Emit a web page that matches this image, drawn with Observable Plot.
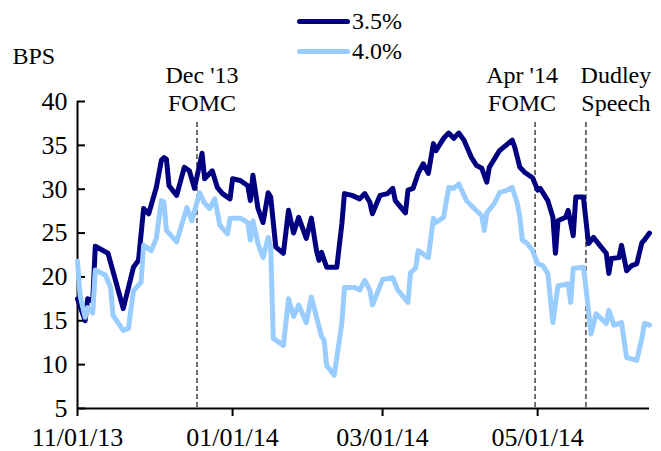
<!DOCTYPE html>
<html><head><meta charset="utf-8">
<script src="https://cdn.jsdelivr.net/npm/d3@7"></script>
<script src="https://cdn.jsdelivr.net/npm/@observablehq/plot@0.6"></script>
<style>
html,body{margin:0;padding:0;background:#fff;}
#chart{position:relative;width:661px;height:451px;font-family:'Liberation Serif','Times New Roman',Times,'DejaVu Serif',serif;}
#chart svg{position:absolute;left:0;top:0;}
#legend{position:absolute;left:297px;top:6px;z-index:2;}
.row{display:flex;align-items:center;height:30px;font-size:24px;line-height:30px;color:#000;}
.sw{width:53px;height:5px;border-radius:2.5px;margin-right:2px;}
</style></head><body><div id="chart"><div id="legend"></div></div>
<script>
const seriesNames = ["3.5%", "4.0%"];
const seriesColors = ["#000080", "#99ccff"];

const dates35 = ["2013-11-01","2013-11-04","2013-11-05","2013-11-07","2013-11-08","2013-11-13","2013-11-19","2013-11-23","2013-11-25","2013-11-27","2013-11-29","2013-12-02","2013-12-04","2013-12-05","2013-12-06","2013-12-07","2013-12-10","2013-12-13","2013-12-15","2013-12-17","2013-12-20","2013-12-21","2013-12-24","2013-12-26","2013-12-28","2013-12-31","2014-01-01","2014-01-04","2014-01-07","2014-01-08","2014-01-09","2014-01-11","2014-01-13","2014-01-15","2014-01-16","2014-01-18","2014-01-21","2014-01-23","2014-01-25","2014-01-27","2014-01-30","2014-02-01","2014-02-03","2014-02-04","2014-02-05","2014-02-07","2014-02-11","2014-02-13","2014-02-14","2014-02-17","2014-02-20","2014-02-22","2014-02-24","2014-02-25","2014-02-28","2014-03-03","2014-03-05","2014-03-06","2014-03-10","2014-03-11","2014-03-13","2014-03-15","2014-03-17","2014-03-19","2014-03-21","2014-03-22","2014-03-25","2014-03-27","2014-03-29","2014-03-31","2014-04-02","2014-04-05","2014-04-07","2014-04-09","2014-04-11","2014-04-12","2014-04-16","2014-04-21","2014-04-22","2014-04-24","2014-04-26","2014-04-29","2014-05-01","2014-05-02","2014-05-05","2014-05-07","2014-05-08","2014-05-09","2014-05-12","2014-05-13","2014-05-15","2014-05-16","2014-05-19","2014-05-21","2014-05-23","2014-05-26","2014-05-28","2014-05-29","2014-05-30","2014-06-02","2014-06-03","2014-06-05","2014-06-07","2014-06-09","2014-06-11","2014-06-12","2014-06-14"];
const values35 = [17.5,15.0,17.5,17.3,23.5,22.7,16.4,21.1,21.9,27.8,27.2,30.2,33.3,33.6,33.4,30.4,29.3,32.5,32.1,30.1,34.1,31.2,32.1,30.2,29.5,28.9,31.2,31.0,30.4,28.7,31.6,27.8,26.2,29.6,29.1,23.4,22.7,27.6,25.0,26.8,24.4,26.7,23.0,21.9,22.8,21.1,21.1,26.1,29.5,29.3,28.9,29.5,28.5,27.2,29.3,29.5,30.1,28.7,27.3,29.9,30.1,31.8,32.9,31.8,35.2,34.4,35.8,36.4,35.8,36.4,35.6,33.6,32.7,32.4,30.8,32.5,34.4,35.6,34.8,32.5,31.9,31.3,29.9,30.1,28.7,26.8,22.7,26.4,26.8,27.6,24.7,29.1,29.1,23.8,24.5,23.4,22.7,20.4,22.1,22.2,23.6,20.7,21.3,21.5,23.9,24.2,25.0];

const dates40 = ["2013-11-01","2013-11-02","2013-11-04","2013-11-05","2013-11-07","2013-11-08","2013-11-12","2013-11-14","2013-11-15","2013-11-19","2013-11-21","2013-11-23","2013-11-26","2013-11-27","2013-11-30","2013-12-02","2013-12-04","2013-12-05","2013-12-06","2013-12-10","2013-12-14","2013-12-16","2013-12-19","2013-12-21","2013-12-23","2013-12-25","2013-12-27","2013-12-30","2013-12-31","2014-01-04","2014-01-07","2014-01-08","2014-01-09","2014-01-11","2014-01-13","2014-01-15","2014-01-16","2014-01-17","2014-01-21","2014-01-23","2014-01-25","2014-01-27","2014-01-30","2014-02-01","2014-02-05","2014-02-06","2014-02-07","2014-02-10","2014-02-13","2014-02-14","2014-02-18","2014-02-20","2014-02-22","2014-02-24","2014-02-25","2014-03-01","2014-03-05","2014-03-07","2014-03-11","2014-03-12","2014-03-14","2014-03-15","2014-03-19","2014-03-21","2014-03-22","2014-03-25","2014-03-27","2014-03-29","2014-03-31","2014-04-03","2014-04-06","2014-04-09","2014-04-10","2014-04-11","2014-04-14","2014-04-16","2014-04-19","2014-04-21","2014-04-23","2014-04-24","2014-04-25","2014-04-27","2014-04-29","2014-05-01","2014-05-03","2014-05-05","2014-05-07","2014-05-09","2014-05-13","2014-05-14","2014-05-15","2014-05-19","2014-05-20","2014-05-22","2014-05-24","2014-05-28","2014-05-29","2014-05-31","2014-06-03","2014-06-05","2014-06-09","2014-06-11","2014-06-12","2014-06-14"];
const values40 = [21.8,17.9,15.4,16.5,15.9,20.8,20.2,18.8,15.6,13.9,14.1,18.4,19.4,23.6,23.0,24.4,28.7,28.5,25.3,24.0,27.9,26.4,29.6,28.4,27.8,28.9,25.9,24.9,26.7,26.7,26.2,24.2,26.4,23.8,22.2,24.5,23.4,13.0,12.2,17.5,15.5,16.8,14.8,17.7,13.2,12.8,9.9,8.8,14.8,18.8,18.8,18.5,19.6,18.5,16.8,19.7,19.9,18.5,17.1,20.5,21.0,23.0,22.2,26.7,26.2,26.8,30.2,30.1,30.6,28.7,27.8,27.0,25.3,27.3,28.4,29.6,29.9,30.2,28.4,26.8,24.2,23.8,23.0,21.5,21.3,20.4,14.8,19.0,19.2,17.1,21.0,21.1,18.8,13.5,15.8,14.7,16.2,14.5,14.8,10.8,10.5,13.0,14.7,14.5];

const eventDates = ["2013-12-18","2014-04-30","2014-05-20"];
const eventLabels = ["Dec '13\nFOMC","Apr '14\nFOMC","Dudley\nSpeech"];

const xTickDates = ["2013-11-01","2014-01-01","2014-03-01","2014-05-01"];
const yTicks = [5,10,15,20,25,30,35,40];
const xDomainDates = ["2013-11-01","2014-06-14"];
const yLabel = "BPS";

// ---- build ----
const parse = d3.utcParse("%Y-%m-%d");
const rows = [];
[[dates35, values35], [dates40, values40]].forEach(([ds, vs], i) => {
  ds.forEach((d, j) => rows.push({series: seriesNames[i], date: parse(d), value: vs[j]}));
});
const events = eventDates.map((d, i) => ({date: parse(d), label: eventLabels[i]}));
const labelShift = [5, -13, 30];
const FONT = "'Liberation Serif','Times New Roman',Times,'DejaVu Serif',serif";

const marks = [
  Plot.ruleX(events, {x: "date", stroke: "#444", strokeWidth: 1.5, strokeDasharray: "5,3", insetTop: 21}),
  Plot.ruleY([yTicks[0]], {stroke: "#000", strokeWidth: 2}),
  Plot.ruleX([parse(xDomainDates[0])], {stroke: "#000", strokeWidth: 2}),
  Plot.axisY({ticks: yTicks, tickSize: 8, dx: 8, fill: "none", strokeWidth: 2, label: null}),
  Plot.axisY({ticks: yTicks, tickSize: 0, tickPadding: 10, fontSize: 26, label: null, fill: "#000"}),
  Plot.axisX({ticks: xTickDates.map(parse), tickFormat: d3.utcFormat("%m/%d/%y"), tickSize: 8, tickPadding: 11, fontSize: 26, strokeWidth: 2, label: null, fill: "#000"}),
  Plot.line(rows.filter(r => r.series === seriesNames[0]), {x: "date", y: "value", stroke: seriesColors[0], strokeWidth: 5, strokeLinejoin: "round", strokeLinecap: "round"}),
  Plot.line(rows.filter(r => r.series === seriesNames[1]), {x: "date", y: "value", stroke: seriesColors[1], strokeWidth: 5, strokeLinejoin: "round", strokeLinecap: "round"}),
  ...events.map((e, i) => Plot.text([e], {x: "date", text: "label", frameAnchor: "top", lineAnchor: "bottom", lineHeight: 1.15, dy: 9, dx: labelShift[i], fontSize: 24, fill: "#000"})),
  Plot.text([yLabel], {text: d => d, frameAnchor: "top-left", textAnchor: "start", lineAnchor: "bottom", dx: -65, dy: -38, fontSize: 24, fill: "#000"})
];

const chart = Plot.plot({
  width: 661, height: 451,
  marginLeft: 77, marginRight: 12, marginTop: 101, marginBottom: 43,
  x: {type: "utc", domain: xDomainDates.map(parse)},
  y: {domain: [yTicks[0], yTicks[yTicks.length - 1]]},
  style: `font-family:${FONT};font-size:24px;color:#000;background:white;overflow:visible;`,
  marks
});
const host = document.getElementById("chart");
host.appendChild(chart);

const legend = document.getElementById("legend");
seriesNames.forEach((n, i) => {
  const row = document.createElement("div");
  row.className = "row";
  const sw = document.createElement("span");
  sw.className = "sw";
  sw.style.background = seriesColors[i];
  const t = document.createElement("span");
  t.textContent = n;
  row.appendChild(sw); row.appendChild(t);
  legend.appendChild(row);
});
</script></body></html>
